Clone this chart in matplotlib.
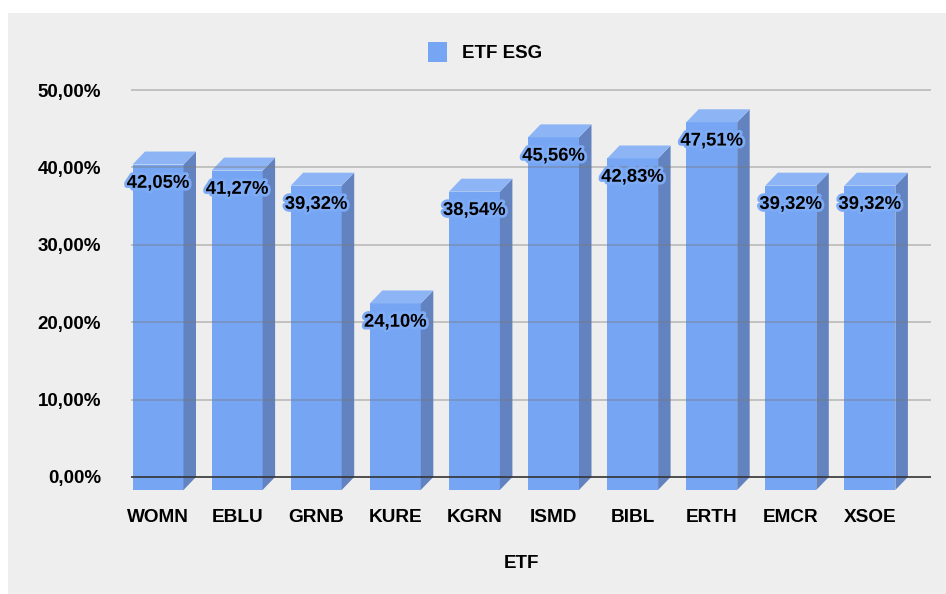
import matplotlib
matplotlib.use("Agg")
import matplotlib.pyplot as plt
from matplotlib.patches import Rectangle, Polygon, Patch
import matplotlib.patheffects as pe

categories = ["WOMN", "EBLU", "GRNB", "KURE", "KGRN", "ISMD", "BIBL", "ERTH", "EMCR", "XSOE"]
values = [42.05, 41.27, 39.32, 24.10, 38.54, 45.56, 42.83, 47.51, 39.32, 39.32]
yticks = [0, 10, 20, 30, 40, 50]
series_name = "ETF ESG"
x_title = "ETF"

W, H, DPI = 946, 594, 100
plt.rcParams['font.family'] = ['Liberation Sans', 'DejaVu Sans']

FRONT = '#75a5f3'
SIDE = '#6383c0'
TOP = '#8db5f6'
BG = '#eeeeee'

fig = plt.figure(figsize=(W / DPI, H / DPI), dpi=DPI, facecolor='white')
fig.patches.append(Rectangle((8 / W, 0), 1, (H - 13) / H, transform=fig.transFigure,
                             facecolor=BG, edgecolor='none', zorder=-10))

# axes box in pixels
ax_l, ax_r, ax_t, ax_b = 131, 931, 80, 500
ax = fig.add_axes([ax_l / W, (H - ax_b) / H, (ax_r - ax_l) / W, (ax_b - ax_t) / H])
ax.set_facecolor('none')

y0_px, y50_px = 477, 90
ppu_y = (y0_px - y50_px) / 50.0
ax.set_ylim(-(ax_b - y0_px) / ppu_y, 50 + (y50_px - ax_t) / ppu_y)
x0_px, step_px = 158, 79.1
ax.set_xlim((ax_l - x0_px) / step_px, (ax_r - x0_px) / step_px)

w = 51 / step_px
dx = 12.5 / step_px
dy = 13 / ppu_y

for i, v in enumerate(values):
    xl, xr = i - w / 2, i + w / 2
    ax.add_patch(Rectangle((xl, -dy), w, v, facecolor=FRONT, edgecolor='none', zorder=2))
    ax.add_patch(Polygon([(xr, -dy), (xr + dx, 0), (xr + dx, v), (xr, v - dy)],
                         closed=True, facecolor=SIDE, edgecolor='none', zorder=2))
    ax.add_patch(Polygon([(xl, v - dy), (xr, v - dy), (xr + dx, v), (xl + dx, v)],
                         closed=True, facecolor=TOP, edgecolor='none', zorder=2))
    ax.annotate(f"{v:.2f}%".replace('.', ','), (i, v - dy), xytext=(0, -13.5),
                textcoords='offset points', ha='center', va='center',
                fontsize=13.3, fontweight='bold', color='black', zorder=5,
                path_effects=[pe.withStroke(linewidth=4, foreground='#7eabf5')])

for t in yticks:
    if t == 0:
        ax.axhline(t, color='#333333', lw=1.2, zorder=4)
    else:
        ax.axhline(t, color='#7a7a7a', lw=1.2, alpha=0.45, zorder=4)

ax.set_yticks(yticks)
ax.set_yticklabels([f"{t:.2f}%".replace('.', ',') for t in yticks])
ax.set_xticks(range(len(categories)))
ax.set_xticklabels(categories)
ax.tick_params(axis='y', length=0, pad=21.5, labelsize=13.5)
ax.tick_params(axis='x', length=0, pad=6.5, labelsize=13.7)
for lab in ax.get_xticklabels() + ax.get_yticklabels():
    lab.set_fontweight('bold')
for s in ax.spines.values():
    s.set_visible(False)

fig.text(521 / W, 1 - 563 / H, x_title, ha='center', va='center',
         fontsize=13.5, fontweight='bold')

leg = fig.legend(handles=[Patch(facecolor=FRONT, edgecolor='none', label=series_name)],
                 loc='center', bbox_to_anchor=(485 / W, 1 - 52 / H), frameon=False,
                 handlelength=1.0, handleheight=1.3, handletextpad=0.8,
                 prop={'weight': 'bold', 'size': 13.5})

fig.savefig('out.png', dpi=DPI, facecolor='white')
